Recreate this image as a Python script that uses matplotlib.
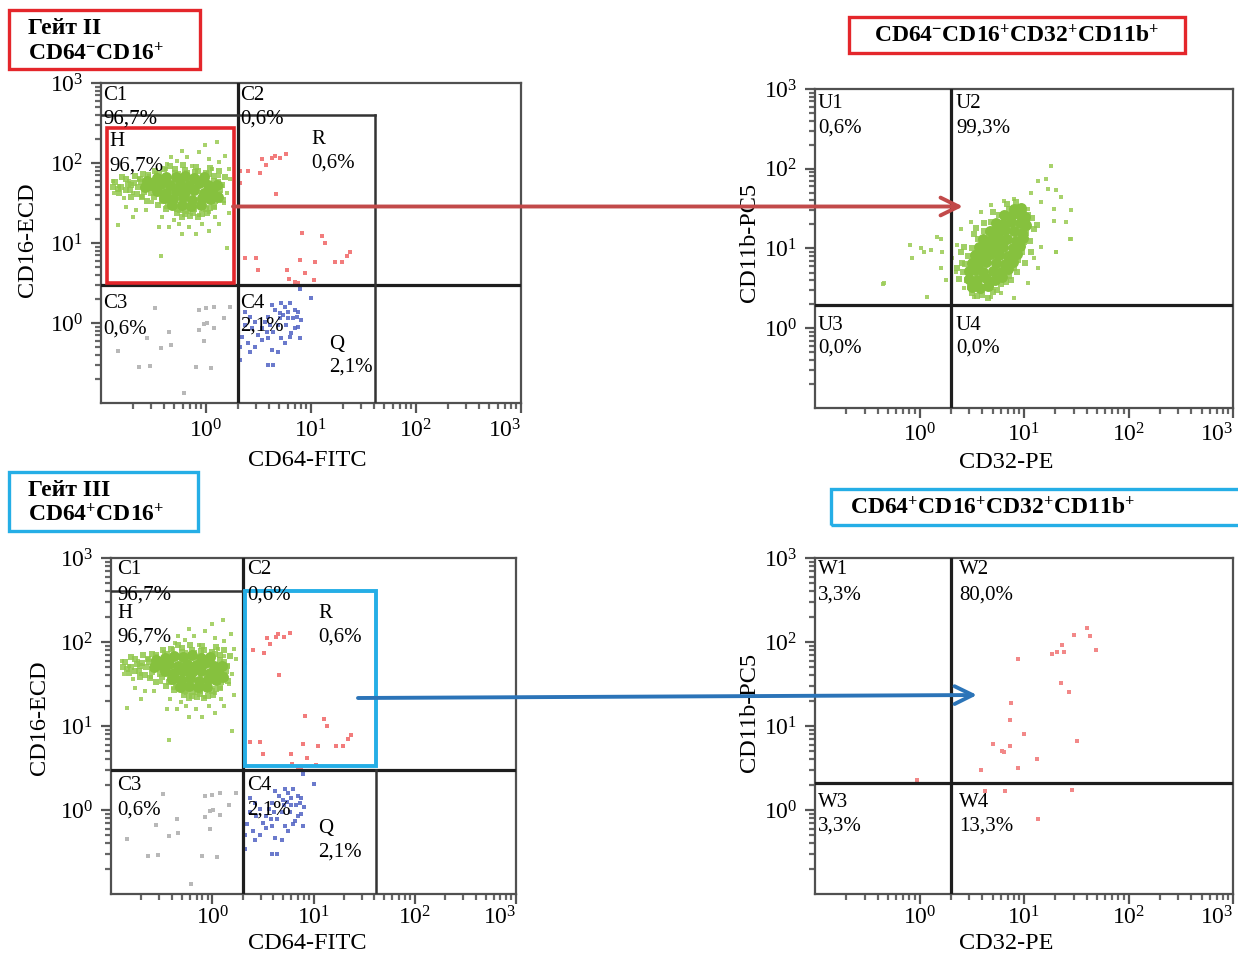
import numpy as np
import matplotlib
matplotlib.use("Agg")
import matplotlib.pyplot as plt
from matplotlib.patches import Rectangle, FancyArrowPatch
from matplotlib.ticker import FixedLocator, FixedFormatter, LogLocator, NullFormatter

plt.rcParams['font.family'] = ['Liberation Serif', 'DejaVu Serif']
plt.rcParams['mathtext.fontset'] = 'custom'
plt.rcParams['mathtext.rm'] = 'Liberation Serif'
plt.rcParams['mathtext.it'] = 'Liberation Serif:italic'
plt.rcParams['mathtext.bf'] = 'Liberation Serif:bold'

# ---------------------------------------------------------------- data
# axis ticks
tick_values = [1, 10, 100, 1000]
tick_labels = [r'$10^{0}$', r'$10^{1}$', r'$10^{2}$', r'$10^{3}$']

# gate boundaries (CD64-FITC / CD16-ECD panels)
q_cd64 = 2.0
q_cd16 = 3.0
c1_top = 400.0
r_right = 41.0
h_gate = [0.115, 1.83, 3.15, 272.0]      # x0, x1, y0, y1
r_gate = [2.12, 41.0, 3.35, 400.0]
# quadrant splits (CD32-PE / CD11b-PC5 panels)
q_cd32 = 2.0
q_cd11b_u = 1.95
q_cd11b_w = 2.08

# left panels: population H (green), log10 values
h_core_lcd64 = [-0.47, -0.38, -0.29, -0.20, -0.11, -0.02,
                -0.52, -0.43, -0.34, -0.25, -0.16, -0.07, 0.02,
                -0.47, -0.38, -0.29, -0.20, -0.11, -0.02, 0.06,
                -0.40, -0.31, -0.22, -0.13, -0.04, 0.04,
                -0.32, -0.23, -0.14, -0.05,
                -0.58, -0.56, 0.10, 0.11]
h_core_lcd16 = [1.81, 1.83, 1.82, 1.84, 1.81, 1.82,
                1.73, 1.74, 1.72, 1.74, 1.73, 1.75, 1.72,
                1.65, 1.63, 1.65, 1.64, 1.66, 1.63, 1.65,
                1.56, 1.55, 1.57, 1.54, 1.56, 1.55,
                1.47, 1.48, 1.46, 1.47,
                1.70, 1.78, 1.72, 1.58]
h_mid_lcd64 = [-0.862, -0.805, -0.766, -0.728, -0.69, -0.652, -0.633, -0.595, -0.575, -0.537,
               -0.556, -0.49, -0.404, -0.299, -0.203, -0.108, -0.003, 0.074, 0.112, 0.131,
               0.102, 0.055, 0.036, -0.04, -0.117, -0.194, -0.27, -0.346, -0.423, -0.499,
               -0.155, -0.079, 0.007, -0.232, 0.074, -0.824, -0.71, -0.614, -0.882,
               -0.80, -0.74, -0.68, -0.62, -0.58, -0.52, -0.50, -0.45, -0.42, -0.36,
               -0.30, -0.25, -0.18, -0.12, -0.08, 0.00, 0.03, 0.08, 0.10, 0.12,
               0.09, 0.15, 0.16, -0.04, -0.20, -0.28, -0.38, -0.46, -0.56, -0.66,
               -0.76, -0.84, -0.71, -0.60, -0.34, -0.22, -0.10, 0.04, 0.12, 0.18]
h_mid_lcd16 = [1.76, 1.70, 1.80, 1.66, 1.75, 1.70, 1.80, 1.64, 1.76, 1.70,
               1.85, 1.90, 1.92, 1.93, 1.91, 1.89, 1.88, 1.84, 1.76, 1.66,
               1.57, 1.52, 1.44, 1.46, 1.42, 1.40, 1.42, 1.46, 1.52, 1.58,
               1.34, 1.33, 1.37, 1.33, 1.45, 1.63, 1.58, 1.57, 1.70,
               1.82, 1.74, 1.84, 1.76, 1.68, 1.62, 1.78, 1.86, 1.57, 1.50,
               1.88, 1.41, 1.87, 1.38, 1.90, 1.42, 1.86, 1.78, 1.70, 1.61,
               1.52, 1.72, 1.54, 1.36, 1.36, 1.37, 1.43, 1.48, 1.52, 1.61,
               1.66, 1.68, 1.72, 1.86, 1.96, 1.97, 1.95, 1.94, 1.90, 1.83]
h_halo_lcd64 = [0.105, -0.006, -0.227, -0.069, 0.183, 0.026, -0.179, -0.337, -0.274, 0.12,
                0.215, 0.231, 0.199, 0.168, 0.215, 0.12, 0.026, -0.10, -0.227, -0.353,
                -0.447, -0.258, -0.416, -0.574, -0.668, -0.763, -0.842, -0.70, -0.432, 0.199,
                -0.873, -0.889, -0.826, -0.731, -0.637, -0.70, -0.605, -0.51, -0.779, -0.164,
                -0.069, 0.026, 0.089, -0.29, -0.384, -0.037, -0.164, -0.305, 0.057, -0.132,
                -0.384, -0.479, -0.542, 0.12, 0.152, 0.136, 0.089, -0.258, -0.369]
h_halo_lcd16 = [2.262, 2.22, 2.156, 2.135, 2.092, 2.05, 2.071, 2.071, 2.028, 2.007,
                1.922, 1.794, 1.624, 1.496, 1.369, 1.241, 1.156, 1.113, 1.113, 1.198,
                1.198, 1.241, 1.326, 1.411, 1.411, 1.454, 1.22, 1.326, 0.837, 0.943,
                1.624, 1.773, 1.709, 1.773, 1.794, 1.624, 1.581, 1.518, 1.56, 1.39,
                1.347, 1.39, 1.326, 1.411, 1.454, 1.241, 1.198, 1.283, 1.922, 1.964,
                1.922, 1.879, 1.837, 1.837, 1.709, 1.56, 1.454, 1.879, 1.986]

# population R (red)
r_lcd64 = [0.536, 0.574, 0.628, 0.653, 0.707, 0.764, 0.511, 0.401, 0.328, 0.328,
           0.662, 0.915, 1.101, 1.132, 0.372, 0.473, 0.498, 0.896, 1.04, 1.224,
           1.293, 1.344, 1.375, 0.776, 0.94, 0.789, 0.849, 1.028, 0.874]
r_lcd16 = [2.046, 1.975, 2.058, 2.09, 2.058, 2.11, 1.87, 1.90, 1.90, 1.746,
           1.608, 1.12, 1.084, 0.996, 0.808, 0.808, 0.663, 0.783, 0.758, 0.767,
           0.767, 0.842, 0.888, 0.663, 0.625, 0.55, 0.513, 0.54, 0.496]

# population C4 (blue)
c4_lcd64 = [1.002, 0.893, 0.719, 0.751, 0.798, 0.846, 0.877, 0.87, 0.83, 0.782,
            0.735, 0.704, 0.657, 0.624, 0.593, 0.562, 0.53, 0.499, 0.435, 0.373,
            0.341, 0.404, 0.467, 0.53, 0.593, 0.624, 0.688, 0.751, 0.798, 0.877,
            0.893, 0.814, 0.719, 0.641, 0.577, 0.467, 0.42, 0.373, 0.325, 0.42,
            0.593, 0.641, 0.325, 0.909, 0.766, 0.846, 0.688, 0.609, 0.70, 0.78]
c4_lcd16 = [0.309, 0.43, 0.246, 0.204, 0.246, 0.163, 0.141, 0.079, 0.059, 0.141,
            0.10, 0.059, 0.163, 0.225, 0.079, 0.016, -0.066, -0.15, -0.066, -0.025,
            -0.171, -0.254, -0.296, -0.213, -0.191, -0.338, -0.359, -0.254, -0.171, -0.046,
            -0.191, -0.129, -0.191, -0.109, -0.109, 0.016, 0.079, 0.141, -0.296, -0.359,
            -0.525, -0.525, -0.463, 0.038, -0.025, -0.066, -0.025, -0.025, 0.12, 0.06]

# population C3 (grey)
c3_lcd64 = [-0.485, -0.069, 0.0, 0.073, 0.231, 0.167, 0.01, -0.022, 0.073, -0.069,
            -0.353, -0.558, -0.022, -0.337, -0.431, -0.842, -0.637, -0.536, -0.10, 0.051,
            -0.211]
c3_lcd16 = [0.192, 0.163, 0.183, 0.204, 0.204, 0.059, -0.004, -0.017, -0.058, -0.088,
            -0.109, -0.183, -0.225, -0.275, -0.308, -0.35, -0.546, -0.533, -0.546, -0.558,
            -0.879]

# CD64-CD16+ -> CD32 / CD11b (green)
u_core_lcd32 = [0.50, 0.58, 0.66,
                0.47, 0.55, 0.64, 0.72, 0.79,
                0.47, 0.53, 0.61, 0.70, 0.78, 0.85,
                0.50, 0.56, 0.64, 0.73, 0.82, 0.89,
                0.53, 0.60, 0.68, 0.76, 0.85, 0.93,
                0.57, 0.64, 0.72, 0.80, 0.89, 0.96,
                0.61, 0.68, 0.76, 0.84, 0.92, 0.99,
                0.67, 0.74, 0.82, 0.90, 0.98,
                0.73, 0.80, 0.88, 0.96, 1.02,
                0.81, 0.88, 0.95, 1.01,
                0.90, 0.97]
u_core_lcd11b = [0.52, 0.50, 0.53,
                 0.62, 0.61, 0.63, 0.60, 0.64,
                 0.72, 0.73, 0.71, 0.72, 0.70, 0.74,
                 0.82, 0.81, 0.83, 0.82, 0.80, 0.83,
                 0.92, 0.91, 0.93, 0.92, 0.90, 0.93,
                 1.02, 1.01, 1.03, 1.02, 1.00, 1.03,
                 1.12, 1.11, 1.13, 1.12, 1.10, 1.13,
                 1.22, 1.21, 1.23, 1.22, 1.20,
                 1.32, 1.31, 1.33, 1.32, 1.30,
                 1.42, 1.41, 1.43, 1.40,
                 1.50, 1.51]
u_mid_lcd32 = [0.42, 0.45, 0.48, 0.58, 0.68, 0.78, 0.86, 0.90, 0.94, 0.98, 1.0, 1.02,
               1.03, 1.0, 0.95, 0.86, 0.76, 0.68, 0.62, 0.56, 0.50, 0.46, 0.44, 0.40,
               0.52, 0.60, 0.70, 0.50, 1.06, 1.08,
               0.38, 0.41, 0.43, 0.55, 0.74, 0.83, 0.93, 1.01, 1.07, 1.10, 1.04, 0.92,
               0.84, 0.70, 0.62, 0.54, 0.36, 0.66, 0.88, 1.12]
u_mid_lcd11b = [0.70, 0.60, 0.52, 0.50, 0.52, 0.56, 0.65, 0.75, 0.85, 0.95, 1.08, 1.20,
                1.32, 1.45, 1.52, 1.50, 1.42, 1.33, 1.22, 1.12, 1.00, 0.90, 0.80, 0.95,
                1.18, 0.42, 0.45, 0.44, 1.10, 1.38,
                0.62, 0.82, 1.02, 0.40, 0.48, 0.58, 0.70, 0.82, 0.96, 1.24, 1.42, 1.58,
                1.56, 1.46, 1.32, 1.26, 0.76, 0.38, 0.60, 1.30]
u_halo_lcd32 = [1.26, 1.13, 1.21, 1.31, 1.356, 1.23, 1.067, 1.163, 1.29, 1.035, 1.29, 1.404,
                1.436, 1.308, 1.163, 1.099, 1.13, 1.035, 0.907, 0.779, 0.683, 0.587, 0.522,
                0.426, 0.346, 0.314, 0.363, 0.394, 0.49, 0.587, 0.683, 0.81, 0.907, 0.218,
                0.202, 0.202, 0.17, 0.106, 0.01, 0.041, -0.087, -0.07, -0.343, 0.074, 0.25,
                -0.35, 1.445, 1.45, 1.31]
u_halo_lcd11b = [2.04, 1.85, 1.875, 1.73, 1.65, 1.75, 1.69, 1.58, 1.50, 1.50, 1.35, 1.33,
                 1.125, 0.96, 1.02, 0.875, 0.75, 0.5625, 0.375, 0.4375, 0.396, 0.458, 0.396,
                 0.50, 0.708, 0.875, 1.04, 1.25, 1.33, 1.46, 1.54, 1.60, 1.625, 0.96,
                 0.75, 1.125, 1.15, 0.98, 1.0, 0.96, 1.04, 0.875, 0.5625, 0.396, 0.604,
                 0.56, 1.125, 1.48, 0.96]

# CD64+CD16+ -> CD32 / CD11b (red)
w_lcd32 = [1.607, 1.632, 1.483, 1.686, 1.368, 1.378, 1.314, 1.267, 0.943, 1.352,
           1.429, 0.879, 0.864, 1.003, 1.505, 0.705, 0.79, 0.864, 0.81, 1.127,
           0.946, 0.584, 0.625, 0.816, 1.464, 1.13, -0.02]
w_lcd11b = [2.167, 2.075, 2.087, 1.90, 1.964, 1.877, 1.877, 1.861, 1.798, 1.512,
            1.405, 1.27, 1.071, 0.905, 0.821, 0.786, 0.706, 0.758, 0.694, 0.603,
            0.496, 0.48, 0.226, 0.226, 0.242, -0.107, 0.36]

# text content
title_tl = ['Гейт II', r'$\mathbf{CD64^{-}CD16^{+}}$']
title_bl = ['Гейт III', r'$\mathbf{CD64^{+}CD16^{+}}$']
title_tr = r'$\mathbf{CD64^{-}CD16^{+}CD32^{+}CD11b^{+}}$'
title_br = r'$\mathbf{CD64^{+}CD16^{+}CD32^{+}CD11b^{+}}$'
left_names = ['C1', 'C2', 'H', 'R', 'C3', 'C4', 'Q']
left_pcts = ['96,7%', '0,6%', '96,7%', '0,6%', '0,6%', '2,1%', '2,1%']
u_names = ['U1', 'U2', 'U3', 'U4']
u_pcts = ['0,6%', '99,3%', '0,0%', '0,0%']
w_names = ['W1', 'W2', 'W3', 'W4']
w_pcts = ['3,3%', '80,0%', '3,3%', '13,3%']

# ---------------------------------------------------------------- style
W, H = 1238, 955
fig = plt.figure(figsize=(W / 100, H / 100), dpi=100)

RED_BOX = '#e4262b'
BLUE_BOX = '#25aee6'
LINE = '#1e1e1e'
GREEN = '#86c13e'
FS_Q = 15
FS_AX = 17.5
FS_T = 17
FS_TICK = 17


def put(px, py, s, **kw):
    kw.setdefault('ha', 'left')
    kw.setdefault('va', 'center')
    return fig.text(px / W, 1 - py / H, s, **kw)


def make_ax(l, t, r, b, xpad):
    ax = fig.add_axes([l / W, 1 - b / H, (r - l) / W, (b - t) / H])
    ax.set_xscale('log')
    ax.set_yscale('log')
    ax.set_xlim(0.1, 1000)
    ax.set_ylim(0.1, 1000)
    for a in (ax.xaxis, ax.yaxis):
        a.set_major_locator(FixedLocator(tick_values))
        a.set_major_formatter(FixedFormatter(tick_labels))
        a.set_minor_locator(LogLocator(base=10, subs=np.arange(2, 10), numticks=20))
        a.set_minor_formatter(NullFormatter())
    ax.tick_params(which='major', direction='out', length=7, width=1.6, color='#555555',
                   labelsize=FS_TICK)
    ax.tick_params(which='minor', direction='out', length=4, width=1.6, color='#666666')
    ax.tick_params(axis='x', which='major', pad=xpad)
    ax.tick_params(axis='y', which='major', pad=6)
    for sp in ax.spines.values():
        sp.set_color('#505050')
        sp.set_linewidth(1.6)
    fig.canvas.draw()
    labs = ax.get_xticklabels()
    labs[-1].set_ha('right')
    return ax


def pts(ax, lx, ly, color, s, marker='s', alpha=1.0, z=2):
    ax.scatter(10 ** np.asarray(lx), 10 ** np.asarray(ly), s=s, c=color, marker=marker,
               linewidths=0, alpha=alpha, zorder=z)


def left_population(ax):
    pts(ax, c3_lcd64, c3_lcd16, '#b8b8b8', 7)
    pts(ax, c4_lcd64, c4_lcd16, '#5163c4', 8, alpha=0.85)
    pts(ax, r_lcd64, r_lcd16, '#f27c7c', 8)
    pts(ax, h_halo_lcd64, h_halo_lcd16, '#9fce5c', 6, alpha=0.9)
    pts(ax, h_mid_lcd64, h_mid_lcd16, '#90c74b', 18, alpha=0.85)
    pts(ax, h_core_lcd64, h_core_lcd16, GREEN, 62, marker='o')


# ---------------------------------------------------------------- top left
ax1 = make_ax(101, 83, 521, 403, 5)
left_population(ax1)
ax1.axvline(q_cd64, color=LINE, lw=2.3, zorder=3)
ax1.axhline(q_cd16, color=LINE, lw=2.3, zorder=3)
ax1.plot([0.1, r_right], [c1_top, c1_top], color='#333333', lw=1.8, zorder=3)
ax1.plot([r_right, r_right], [0.1, c1_top], color='#333333', lw=1.8, zorder=3)
ax1.add_patch(Rectangle((h_gate[0], h_gate[2]), h_gate[1] - h_gate[0], h_gate[3] - h_gate[2],
                        fill=False, ec='#e3262b', lw=2.6, zorder=4))

# ---------------------------------------------------------------- bottom left
ax3 = make_ax(111, 558, 516, 894, 2)
left_population(ax3)
ax3.axvline(q_cd64, color=LINE, lw=2.3, zorder=3)
ax3.axhline(q_cd16, color=LINE, lw=2.3, zorder=3)
ax3.plot([0.1, q_cd64], [c1_top, c1_top], color='#333333', lw=1.8, zorder=3)
ax3.plot([r_right, r_right], [0.1, q_cd16], color='#333333', lw=1.8, zorder=3)
ax3.add_patch(Rectangle((r_gate[0], r_gate[2]), r_gate[1] - r_gate[0], r_gate[3] - r_gate[2],
                        fill=False, ec=BLUE_BOX, lw=2.8, zorder=4))

# ---------------------------------------------------------------- top right
ax2 = make_ax(815, 89, 1233, 408, 4)
pts(ax2, u_halo_lcd32, u_halo_lcd11b, '#9fce5c', 6, alpha=0.9)
pts(ax2, u_mid_lcd32, u_mid_lcd11b, '#90c74b', 18, alpha=0.85)
pts(ax2, u_core_lcd32, u_core_lcd11b, GREEN, 62, marker='o')
ax2.axvline(q_cd32, color=LINE, lw=2.3, zorder=3)
ax2.axhline(q_cd11b_u, color=LINE, lw=2.3, zorder=3)

# ---------------------------------------------------------------- bottom right
ax4 = make_ax(815, 558, 1233, 894, 2)
pts(ax4, w_lcd32, w_lcd11b, '#f28888', 9)
ax4.axvline(q_cd32, color=LINE, lw=2.3, zorder=3)
ax4.axhline(q_cd11b_w, color=LINE, lw=2.3, zorder=3)

# ---------------------------------------------------------------- axis labels
put(307, 461, 'CD64-FITC', fontsize=FS_AX, ha='center')
put(28, 240, 'CD16-ECD', fontsize=FS_AX, ha='center', rotation=90)
put(1006, 462, 'CD32-PE', fontsize=FS_AX, ha='center')
put(749, 242, 'CD11b-PC5', fontsize=FS_AX, ha='center', rotation=90)
put(307, 943, 'CD64-FITC', fontsize=FS_AX, ha='center')
put(39, 718, 'CD16-ECD', fontsize=FS_AX, ha='center', rotation=90)
put(1006, 943, 'CD32-PE', fontsize=FS_AX, ha='center')
put(749, 712, 'CD11b-PC5', fontsize=FS_AX, ha='center', rotation=90)

# ---------------------------------------------------------------- quadrant labels
tl_pos = [(103, 96, 119), (240, 96, 119), (109, 142, 166), (311, 140, 163),
          (103, 303, 329), (240, 303, 326), (329, 344, 367)]
bl_pos = [(117, 570, 595), (247, 570, 595), (117, 613, 637), (318, 613, 637),
          (117, 785, 810), (247, 785, 810), (318, 828, 852)]
for (x, y1, y2), n, p in zip(tl_pos, left_names, left_pcts):
    put(x, y1, n, fontsize=FS_Q, zorder=6)
    put(x, y2, p, fontsize=FS_Q, zorder=6)
for (x, y1, y2), n, p in zip(bl_pos, left_names, left_pcts):
    put(x, y1, n, fontsize=FS_Q, zorder=6)
    put(x, y2, p, fontsize=FS_Q, zorder=6)
tr_pos = [(818, 104, 128), (956, 104, 128), (818, 325, 348), (956, 325, 348)]
br_pos = [(818, 570, 595), (959, 570, 595), (818, 802, 826), (959, 802, 826)]
for (x, y1, y2), n, p in zip(tr_pos, u_names, u_pcts):
    put(x, y1, n, fontsize=FS_Q)
    put(x, y2, p, fontsize=FS_Q)
for (x, y1, y2), n, p in zip(br_pos, w_names, w_pcts):
    put(x, y1, n, fontsize=FS_Q)
    put(x, y2, p, fontsize=FS_Q)

# ---------------------------------------------------------------- title boxes
def box(x0, y0, x1, y1, color):
    fig.add_artist(Rectangle((x0 / W, 1 - y1 / H), (x1 - x0) / W, (y1 - y0) / H,
                             transform=fig.transFigure, fill=False, ec=color, lw=2.4))


box(9, 10, 200, 69, RED_BOX)
put(28, 28, title_tl[0], fontsize=FS_T, fontweight='bold')
put(28, 54, title_tl[1], fontsize=FS_T)
box(849, 17, 1185, 53, RED_BOX)
put(1017, 36, title_tr, fontsize=FS_T, ha='center')
box(9, 472, 198, 531, BLUE_BOX)
put(28, 490, title_bl[0], fontsize=FS_T, fontweight='bold')
put(28, 515, title_bl[1], fontsize=FS_T)
box(831, 489, 1250, 525, BLUE_BOX)
put(850, 508, title_br, fontsize=FS_T)

# ---------------------------------------------------------------- arrows
def arrow(x0, y0, x1, y1, color):
    a = FancyArrowPatch((x0 / W, 1 - y0 / H), (x1 / W, 1 - y1 / H), transform=fig.transFigure,
                        arrowstyle='->,head_length=0.65,head_width=0.32', mutation_scale=20,
                        color=color, lw=2.8, shrinkA=0, shrinkB=0, zorder=10)
    fig.add_artist(a)


arrow(233, 206.5, 963, 206.5, '#c24a4a')
arrow(358, 698, 977, 695, '#2b74b8')

fig.savefig('out.png', dpi=100)
